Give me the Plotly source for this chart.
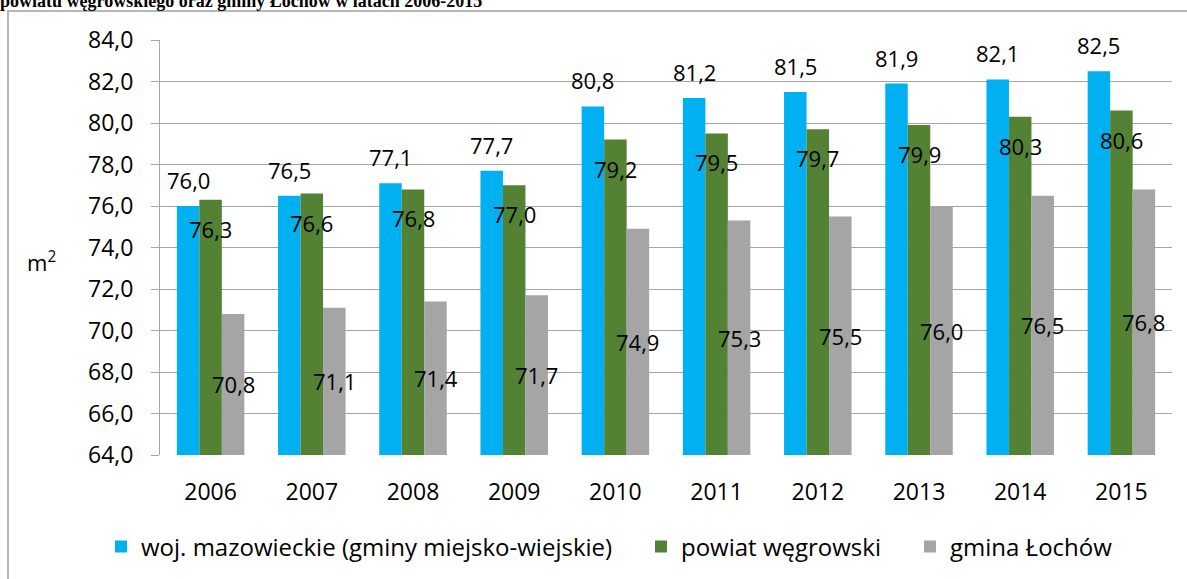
import plotly.graph_objects as go

years = ["2006", "2007", "2008", "2009", "2010", "2011", "2012", "2013", "2014", "2015"]
woj_mazowieckie = [76.0, 76.5, 77.1, 77.7, 80.8, 81.2, 81.5, 81.9, 82.1, 82.5]
powiat_wegrowski = [76.3, 76.6, 76.8, 77.0, 79.2, 79.5, 79.7, 79.9, 80.3, 80.6]
gmina_lochow = [70.8, 71.1, 71.4, 71.7, 74.9, 75.3, 75.5, 76.0, 76.5, 76.8]

series_names = ["woj. mazowieckie (gminy miejsko-wiejskie)", "powiat węgrowski", "gmina Łochów"]
colors = ["#00B0F0", "#548235", "#A5A5A5"]
y_min, y_max = 64.0, 84.0
y_tick_step = 2.0
title_text = "powiatu węgrowskiego oraz gminy Łochów w latach 2006-2015"
y_title = "m<sup>2</sup>"

FONT = "Open Sans"
FS = 22
W, H = 1187, 579
ML, MR, MT, MB = 160, 15, 40, 124
plot_w = W - ML - MR
plot_h = H - MT - MB

def px_x(px):
    return (px - ML) / plot_w

def px_y(py):
    return (H - MB - py) / plot_h

legend_ids = ["legend", "legend2", "legend3"]
legend_text_start = [141, 681, 950]

fig = go.Figure()
for name, vals, col, lid in zip(series_names, [woj_mazowieckie, powiat_wegrowski, gmina_lochow], colors, legend_ids):
    fig.add_trace(go.Bar(x=years, y=vals, name=name, legend=lid,
                         marker=dict(color=col, line=dict(width=0))))

bargap = 0.333
bw = (1 - bargap) / 3.0

def fmt(v):
    return f"{v:.1f}".replace(".", ",")

lab_font = dict(family=FONT, size=FS, color="black")
tick_font = dict(family=FONT, size=23, color="black")
leg_font = dict(family=FONT, size=24, color="black")
annotations = []
for i, v in enumerate(woj_mazowieckie):
    annotations.append(dict(x=i - bw, y=v, xref="x", yref="y", text=fmt(v), showarrow=False,
                            yanchor="middle", yshift=26, font=lab_font))
for i, v in enumerate(powiat_wegrowski):
    annotations.append(dict(x=i, y=v, xref="x", yref="y", text=fmt(v), showarrow=False,
                            yanchor="middle", yshift=-29, font=lab_font))
for i, v in enumerate(gmina_lochow):
    annotations.append(dict(x=i + bw, y=(y_min + v) / 2.0, xref="x", yref="y", text=fmt(v), showarrow=False,
                            yanchor="middle", font=lab_font))

annotations.append(dict(x=px_x(41), y=px_y(261), xref="paper", yref="paper",
                        text=y_title, showarrow=False, xanchor="center", yanchor="middle", font=lab_font))
annotations.append(dict(x=px_x(-2), y=px_y(13), xref="paper", yref="paper",
                        text="<b>" + title_text + "</b>", showarrow=False, xanchor="left", yanchor="bottom",
                        font=dict(family="Liberation Serif", size=18, color="black")))

layout_legends = {}
for lid, ts in zip(legend_ids, legend_text_start):
    layout_legends[lid] = dict(orientation="h", x=px_x(ts - 40), xanchor="left",
                               y=px_y(547), yanchor="middle", font=leg_font, itemwidth=30,
                               bgcolor="rgba(0,0,0,0)")

fig.update_layout(
    width=W, height=H,
    margin=dict(l=ML, r=MR, t=MT, b=MB, autoexpand=False),
    paper_bgcolor="white", plot_bgcolor="white",
    barmode="group", bargap=bargap, bargroupgap=0,
    separators=", ",
    font=dict(family=FONT, size=FS, color="black"),
    showlegend=True,
    annotations=annotations,
    shapes=[dict(type="rect", xref="paper", yref="paper",
                 x0=px_x(8), x1=1.2, y0=-0.6, y1=px_y(11),
                 line=dict(color="#A0A0A0", width=1.5), fillcolor="rgba(0,0,0,0)", layer="below")],
    **layout_legends,
)

fig.update_xaxes(type="category", showgrid=False, showline=False, ticks="",
                 tickfont=tick_font, ticklabelstandoff=21)
fig.update_yaxes(range=[y_min, y_max], dtick=y_tick_step, tick0=y_min, tickformat=".1f",
                 showgrid=True, gridcolor="#A6A6A6", gridwidth=1,
                 showline=True, linecolor="#A6A6A6", linewidth=1,
                 ticks="outside", ticklen=8, tickcolor="#A6A6A6",
                 tickfont=tick_font, ticklabelstandoff=13, zeroline=False)

fig.write_html("out.html", config={"displayModeBar": False},
               post_script="document.body.style.margin='0px';document.body.style.overflow='hidden';")
